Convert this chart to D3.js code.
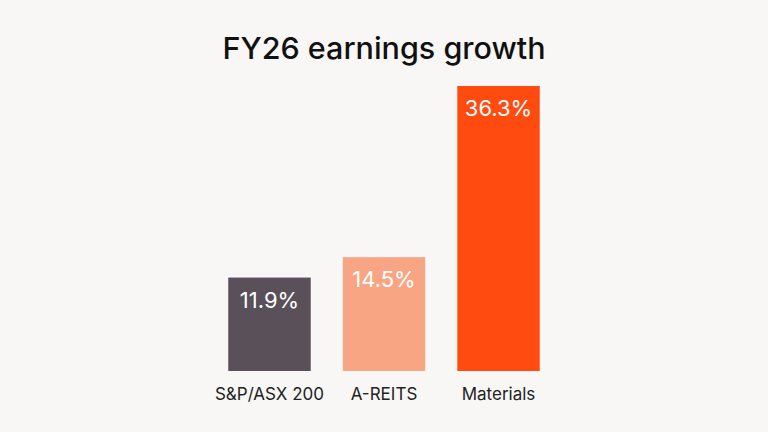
<!DOCTYPE html>
<html>
<head>
<meta charset="utf-8">
<script src="https://cdn.jsdelivr.net/npm/d3@7"></script>
<style>
  html, body { margin: 0; padding: 0; background: #f8f7f5; }
  svg { display: block; }
</style>
</head>
<body>
<div id="container"></div>
<script>
/* DATA */
const categories = ["S&P/ASX 200", "A-REITS", "Materials"];
const growth = [11.9, 14.5, 36.3];
const valueLabels = ["11.9%", "14.5%", "36.3%"];
const barColors = ["#59505a", "#f8a584", "#ff4b10"];

/* CONSTANTS */
const width = 768,
  height = 432,
  margin = { top: 86, bottom: 61, left: 171, right: 171 };

const svg = d3.select("#container")
  .append("svg")
  .attr("width", width)
  .attr("height", height);

svg.append("rect")
  .attr("width", width)
  .attr("height", height)
  .attr("fill", "#f8f7f5");

/* SCALES */
const xScale = d3.scaleBand()
  .domain(categories)
  .range([margin.left, width - margin.right])
  .paddingInner(0.28)
  .paddingOuter(0.5);

const yScale = d3.scaleLinear()
  .domain([0, 36.3])
  .range([height - margin.bottom, margin.top]);

const rows = categories.map((c, i) => ({ cat: c, v: growth[i], label: valueLabels[i], color: barColors[i] }));

/* TITLE */
svg.append("text")
  .attr("x", width / 2)
  .attr("y", 59)
  .attr("text-anchor", "middle")
  .attr("font-family", "Inter, sans-serif")
  .attr("font-size", 30.5)
  .attr("font-weight", 500)
  .attr("fill", "#111")
  .text("FY26 earnings growth");

/* BARS */
svg.selectAll("rect.bar")
  .data(rows)
  .join("rect")
  .attr("class", "bar")
  .attr("x", d => xScale(d.cat))
  .attr("width", xScale.bandwidth())
  .attr("y", d => yScale(d.v))
  .attr("height", d => yScale(0) - yScale(d.v))
  .attr("fill", d => d.color);

svg.selectAll("text.value")
  .data(rows)
  .join("text")
  .attr("class", "value")
  .attr("x", d => xScale(d.cat) + xScale.bandwidth() / 2)
  .attr("y", d => yScale(d.v) + 30)
  .attr("text-anchor", "middle")
  .attr("font-family", "Inter, sans-serif")
  .attr("font-size", 22)
  .attr("fill", "#ffffff")
  .text(d => d.label);

/* X AXIS (labels only) */
const xAxis = d3.axisBottom(xScale).tickSize(0).tickPadding(17);
const gx = svg.append("g")
  .attr("transform", `translate(0, ${yScale(0)})`)
  .call(xAxis);
gx.select(".domain").remove();
gx.selectAll("text")
  .attr("font-family", "Inter, sans-serif")
  .attr("font-size", 17)
  .attr("fill", "#222");
</script>
</body>
</html>
